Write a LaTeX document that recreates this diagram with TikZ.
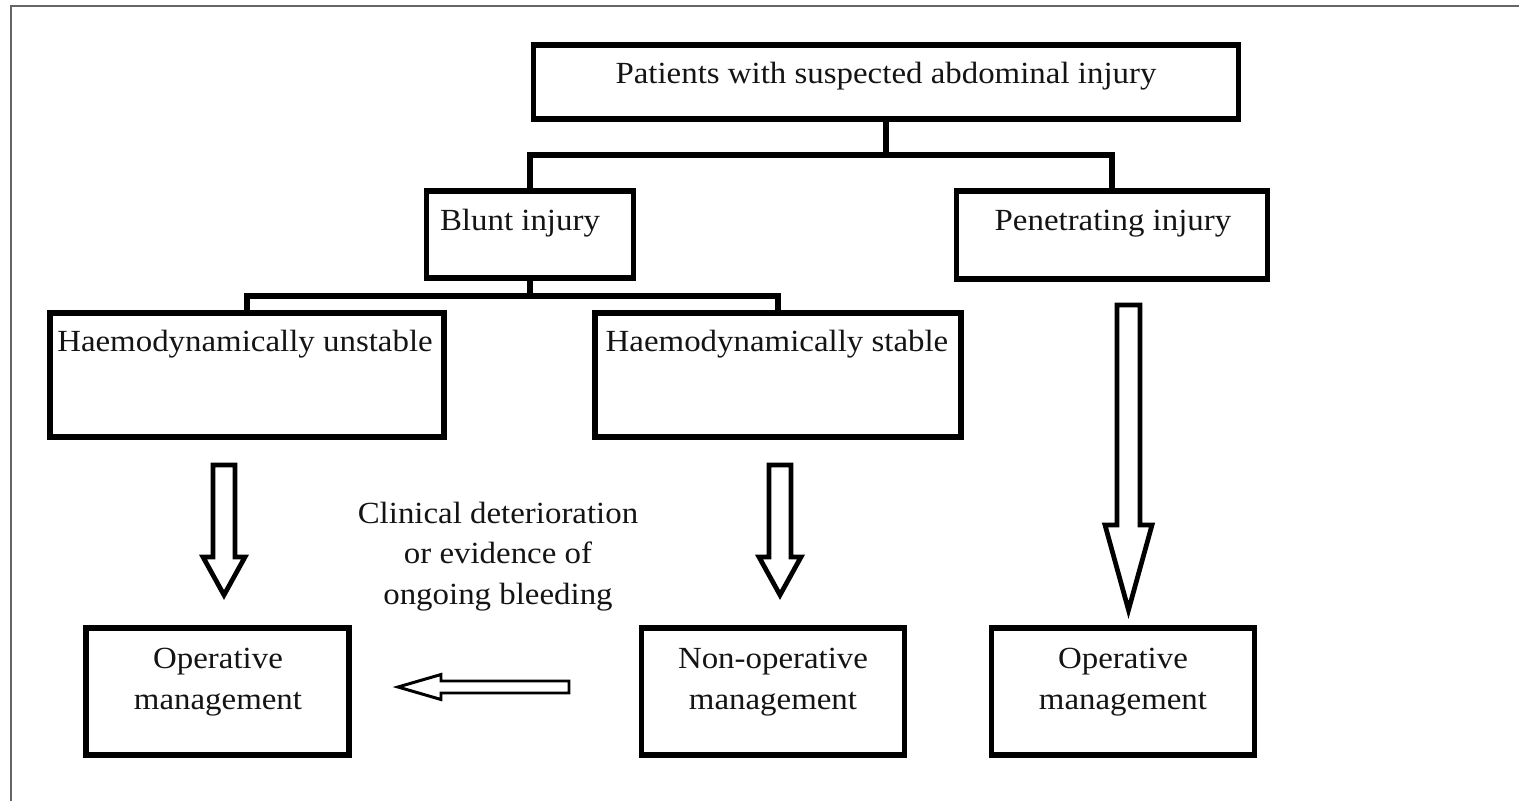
\documentclass[tikz,border=0pt]{standalone}
\usepackage{fontspec}
\setmainfont{Liberation Serif}[FakeStretch=1.07]
\begin{document}
\begin{tikzpicture}[x=0.02cm,y=-0.02cm,
  box/.style={draw=black, line width=3.3pt, rectangle, inner sep=0pt},
  txt/.style={anchor=base, inner sep=0pt, align=center, text=black!92,
    font=\fontsize{17.5}{22.8}\selectfont},
  conn/.style={draw=black, line width=3.1pt},
  barrow/.style={draw=black, line width=2.7pt, fill=white, line join=miter},
  frame/.style={draw=black!60, line width=1.1pt}]
\useasboundingbox (0,0) rectangle (1519,801);
\fill[white] (0,0) rectangle (1519,801);
% outer frame (partly cropped)
\draw[frame] (11,801) -- (11,6) -- (1519,6);

% boxes
\node[box, minimum width=14.1cm, minimum height=1.48cm] (top) at (886,82) {};
\node[box, minimum width=4.14cm, minimum height=1.74cm] (blunt) at (530,234.5) {};
\node[box, minimum width=6.22cm, minimum height=1.76cm] (pen) at (1112,235) {};
\node[box, minimum width=7.88cm, minimum height=2.48cm] (hu) at (247,375) {};
\node[box, minimum width=7.32cm, minimum height=2.48cm] (hs) at (778,375) {};
\node[box, minimum width=5.26cm, minimum height=2.54cm] (op1) at (217.5,691.5) {};
\node[box, minimum width=5.26cm, minimum height=2.54cm] (nop) at (773,691.5) {};
\node[box, minimum width=5.26cm, minimum height=2.54cm] (op2) at (1123,691.5) {};

% texts
\node[txt] (toptxt) at (886,83) {Patients with suspected abdominal injury};
\node[txt] (blunttxt) at (520,230) {Blunt injury};
\node[txt] (pentxt) at (1113,230) {Penetrating injury};
\node[txt] (hutxt) at (245,351) {Haemodynamically unstable};
\node[txt] (hstxt) at (777,351) {Haemodynamically stable};
\node[txt] (op1txt) at (218,709) {Operative\\management};
\node[txt] (noptxt) at (773,709) {Non-operative\\management};
\node[txt] (op2txt) at (1123,709) {Operative\\management};
\node[txt] (clin) at (498,604) {Clinical deterioration\\or evidence of\\ongoing bleeding};

% tree connectors
\coordinate (j1) at (886,155);
\coordinate (j2) at (530,296);
\draw[conn] (top.south) -- (j1);
\draw[conn, line cap=rect] (blunt.north) |- (j1) -| (pen.north);
\draw[conn] (blunt.south) -- (j2);
\draw[conn, line cap=rect] (hu.north) |- (j2) -| (hs.north);

% hollow block arrows
\coordinate (a1) at (224,465);
\coordinate (a2) at (780,465);
\coordinate (a3) at (1128.5,305);
\coordinate (a4) at (569,687);
\draw[barrow, shift={(a1)}] (-11,0) -- (11,0) -- (11,92) -- (21,92) -- (0,130) -- (-21,92) -- (-11,92) -- cycle;
\draw[barrow, shift={(a2)}] (-11,0) -- (11,0) -- (11,92) -- (21,92) -- (0,130) -- (-21,92) -- (-11,92) -- cycle;
\draw[barrow, shift={(a3)}] (-11.5,0) -- (11.5,0) -- (11.5,220) -- (23.5,220) -- (0,305) -- (-23.5,220) -- (-11.5,220) -- cycle;
\draw[barrow, line width=1.7pt, shift={(a4)}] (0,-6) -- (0,6) -- (-128,6) -- (-128,12.5) -- (-171,0) -- (-128,-12.5) -- (-128,-6) -- cycle;
\end{tikzpicture}
\end{document}
